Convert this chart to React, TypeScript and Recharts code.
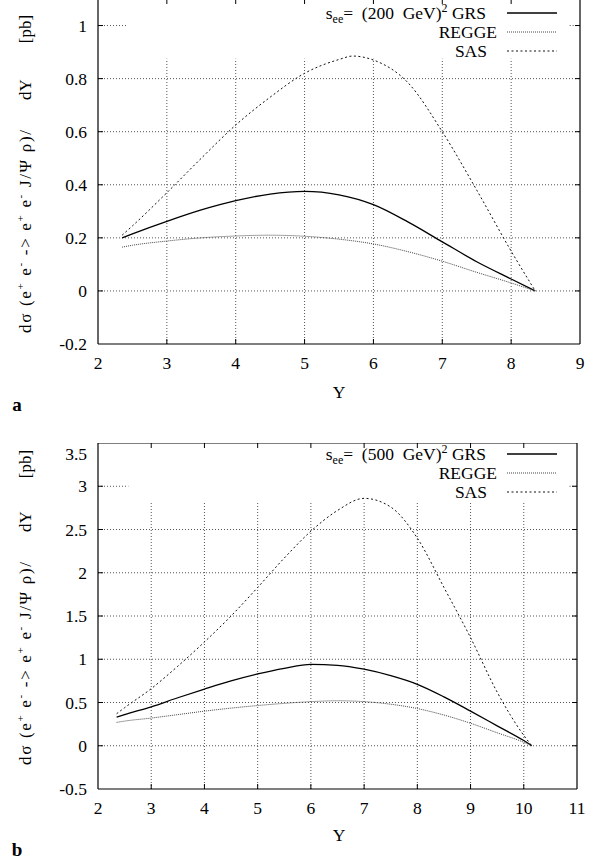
import React from 'react';
import { LineChart, Line, XAxis, YAxis, ReferenceLine } from 'recharts';

const FONT = "'Liberation Serif', 'DejaVu Serif', serif";

// ---------- Panel a : s_ee = (200 GeV)^2 ----------
const xA = [2.35, 2.5, 3, 3.5, 4, 4.5, 5, 5.5, 6, 6.5, 7, 7.5, 8, 8.35];
const grsA = [0.2, 0.215, 0.262, 0.305, 0.34, 0.365, 0.375, 0.362, 0.325, 0.26, 0.185, 0.11, 0.045, 0];
const reggeA = [0.165, 0.172, 0.188, 0.2, 0.207, 0.21, 0.206, 0.195, 0.177, 0.148, 0.112, 0.07, 0.03, 0];
const xSasA = [2.35, 2.5, 3, 3.5, 4, 4.5, 5, 5.5, 5.7, 6, 6.5, 7, 7.5, 8, 8.35];
const sasA = [0.21, 0.245, 0.37, 0.5, 0.625, 0.73, 0.82, 0.872, 0.885, 0.87, 0.785, 0.6, 0.38, 0.15, 0];
const xTicksA = [2, 3, 4, 5, 6, 7, 8, 9];
const yTicksA = [-0.2, 0, 0.2, 0.4, 0.6, 0.8, 1];
const xDomainA = [2, 9];
const yDomainA = [-0.2, 1.1];
const keyBoxA = { x1: 2.435, x2: 8.85, y1: 0.875 };

// ---------- Panel b : s_ee = (500 GeV)^2 ----------
const xB = [2.35, 2.5, 3, 3.5, 4, 4.5, 5, 5.5, 6, 6.5, 7, 7.5, 8, 8.5, 9, 9.5, 10, 10.15];
const grsB = [0.33, 0.36, 0.45, 0.555, 0.655, 0.75, 0.83, 0.895, 0.94, 0.93, 0.885, 0.81, 0.71, 0.565, 0.4, 0.23, 0.06, 0];
const reggeB = [0.27, 0.285, 0.32, 0.36, 0.4, 0.435, 0.465, 0.49, 0.51, 0.52, 0.51, 0.48, 0.43, 0.355, 0.26, 0.15, 0.04, 0];
const sasB = [0.37, 0.44, 0.66, 0.92, 1.2, 1.5, 1.83, 2.17, 2.48, 2.72, 2.86, 2.76, 2.4, 1.83, 1.25, 0.62, 0.12, 0];
const xTicksB = [2, 3, 4, 5, 6, 7, 8, 9, 10, 11];
const yTicksB = [-0.5, 0, 0.5, 1, 1.5, 2, 2.5, 3, 3.5];
const xDomainB = [2, 11];
const yDomainB = [-0.5, 3.5];
const keyBoxB = { x1: 2.57, x2: 10.86, y1: 2.81 };

const seriesNames = ['GRS', 'REGGE', 'SAS'];

const toPts = (xs: number[], ys: number[]) => xs.map((x, i) => ({ x, y: ys[i] }));

const lineStyles = [
  { stroke: '#000', strokeWidth: 1.3, strokeDasharray: undefined as string | undefined },
  { stroke: '#444', strokeWidth: 1, strokeDasharray: '1 1' },
  { stroke: '#111', strokeWidth: 1, strokeDasharray: '2 2.5' },
];

const GRID = { stroke: '#555', strokeWidth: 1, strokeDasharray: '1 2' };
const FRAME = { stroke: '#000', strokeWidth: 1.2 };
const TICKLEN = 5;
const CHART_H = 400;
const LEFT_MARGIN = 38;
const YAXIS_W = 60;
const XAXIS_H = 30;
const FS = 17.5;

function Key({ energy, top }: { energy: string; top: number }) {
  const rows = [13 + top, 32 + top, 51 + top];
  const ends = [486, 497, 487];
  return (
    <g>
      {seriesNames.map((name, i) => (
        <g key={name}>
          <text
            x={ends[i]}
            y={rows[i] + 6}
            textAnchor="end"
            fontFamily={FONT}
            fontSize={FS}
            fill="#000"
            style={{ whiteSpace: 'pre', fontFamily: FONT }}
          >
            {i === 0 ? (
              <>
                s
                <tspan dy={4} fontSize={12}>ee</tspan>
                <tspan dy={-4}>{`=  (${energy}  GeV)`}</tspan>
                <tspan dy={-7} fontSize={12}>2</tspan>
                <tspan dy={7}>{` ${name}`}</tspan>
              </>
            ) : (
              name
            )}
          </text>
          <line
            x1={507}
            x2={557}
            y1={rows[i]}
            y2={rows[i]}
            stroke={lineStyles[i].stroke}
            strokeWidth={lineStyles[i].strokeWidth}
            strokeDasharray={lineStyles[i].strokeDasharray}
          />
        </g>
      ))}
    </g>
  );
}

function YTitle({ cx, mainStart, mainEnd, dyStart, pbCenter }: { cx: number; mainStart: number; mainEnd: number; dyStart: number; pbCenter: number }) {
  const sup = (s: string) => (
    <>
      <tspan dy={-7} fontSize={11}>{s}</tspan>
      <tspan dy={7}> </tspan>
    </>
  );
  return (
    <g fontFamily={FONT} fontSize={17} fill="#000" style={{ fontFamily: FONT }}>
      <text
        transform={`translate(${cx}, ${mainStart}) rotate(-90)`}
        textAnchor="start"
        textLength={mainStart - mainEnd}
        lengthAdjust="spacing"
      >
        dσ (e{sup('+')}e{sup('-')}-&gt; e{sup('+')}e{sup('-')}J/Ψ ρ)/
      </text>
      <text transform={`translate(${cx}, ${dyStart}) rotate(-90)`} textAnchor="start">
        dY
      </text>
      <text transform={`translate(${cx}, ${pbCenter}) rotate(-90)`} textAnchor="middle">
        [pb]
      </text>
    </g>
  );
}

type PanelProps = {
  top: number;
  rightMargin: number;
  bottomMargin: number;
  xs: number[];
  grs: number[];
  regge: number[];
  xsSas: number[];
  sas: number[];
  xTicks: number[];
  yTicks: number[];
  xDomain: number[];
  yDomain: number[];
  keyBox: { x1: number; x2: number; y1: number };
  energy: string;
  letter: string;
  yTitle: { mainStart: number; mainEnd: number; dyStart: number; pbCenter: number };
  xTitleY: number;
  letterY: number;
  keyTop: number;
};

function Panel(p: PanelProps) {
  const [xmin, xmax] = p.xDomain;
  const [ymin, ymax] = p.yDomain;
  const datasets = [toPts(p.xs, p.grs), toPts(p.xs, p.regge), toPts(p.xsSas, p.sas)];
  const tickStyle = { fontFamily: FONT, fontSize: FS, fill: '#000' };
  const off = -p.top;

  // plot frame in container pixels (from the layout constants)
  const L = LEFT_MARGIN + YAXIS_W;
  const R = 607 - p.rightMargin;
  const T = 0;
  const B = CHART_H - p.bottomMargin - XAXIS_H;
  const fx = (v: number) => L + ((v - xmin) / (xmax - xmin)) * (R - L);
  const fy = (v: number) => T + ((ymax - v) / (ymax - ymin)) * (B - T);

  const refs: React.ReactNode[] = [];
  p.yTicks.forEach((t) => {
    if (t <= ymin || t >= ymax) return;
    if (t >= p.keyBox.y1) {
      refs.push(<ReferenceLine key={`hl${t}`} segment={[{ x: xmin, y: t }, { x: p.keyBox.x1, y: t }]} {...GRID} ifOverflow="visible" />);
      refs.push(<ReferenceLine key={`hr${t}`} segment={[{ x: p.keyBox.x2, y: t }, { x: xmax, y: t }]} {...GRID} ifOverflow="visible" />);
    } else {
      refs.push(<ReferenceLine key={`h${t}`} segment={[{ x: xmin, y: t }, { x: xmax, y: t }]} {...GRID} ifOverflow="visible" />);
    }
  });
  p.xTicks.forEach((t) => {
    if (t <= xmin || t >= xmax) return;
    const inKey = t >= p.keyBox.x1 && t <= p.keyBox.x2;
    refs.push(
      <ReferenceLine key={`v${t}`} segment={[{ x: t, y: ymin }, { x: t, y: inKey ? p.keyBox.y1 : ymax }]} {...GRID} ifOverflow="visible" />
    );
  });

  const innerX = p.xTicks.filter((t) => t > xmin && t < xmax);
  const innerY = p.yTicks.filter((t) => t > ymin && t < ymax);

  return (
    <div style={{ position: 'absolute', left: 0, top: p.top, width: 607, height: 430 }}>
      <LineChart
        width={607}
        height={CHART_H}
        margin={{ top: 0, right: p.rightMargin, bottom: p.bottomMargin, left: LEFT_MARGIN }}
      >
        <XAxis
          dataKey="x"
          type="number"
          domain={p.xDomain}
          ticks={p.xTicks}
          allowDataOverflow
          height={XAXIS_H}
          tickLine={false}
          tickSize={0}
          tickMargin={13}
          tick={tickStyle}
          axisLine={FRAME}
        />
        <YAxis
          type="number"
          domain={p.yDomain}
          ticks={p.yTicks}
          allowDataOverflow
          width={YAXIS_W}
          tickLine={false}
          tickSize={0}
          tickMargin={11}
          tick={tickStyle}
          axisLine={FRAME}
        />
        {refs}
        {datasets.map((d, i) => (
          <Line
            key={seriesNames[i]}
            data={d}
            dataKey="y"
            name={seriesNames[i]}
            type="monotone"
            dot={false}
            activeDot={false}
            isAnimationActive={false}
            stroke={lineStyles[i].stroke}
            strokeWidth={lineStyles[i].strokeWidth}
            strokeDasharray={lineStyles[i].strokeDasharray}
          />
        ))}
      </LineChart>
      <svg width={607} height={430} style={{ position: 'absolute', left: 0, top: 0, pointerEvents: 'none' }}>
        {/* frame top/right and inward ticks on all four sides */}
        <line x1={L} x2={R} y1={T} y2={T} {...FRAME} />
        <line x1={R} x2={R} y1={T} y2={B} {...FRAME} />
        {innerX.map((t) => (
          <g key={`tx${t}`} stroke="#000" strokeWidth={1}>
            <line x1={fx(t)} x2={fx(t)} y1={B} y2={B - TICKLEN} />
            <line x1={fx(t)} x2={fx(t)} y1={T} y2={T + TICKLEN} />
          </g>
        ))}
        {innerY.map((t) => (
          <g key={`ty${t}`} stroke="#000" strokeWidth={1}>
            <line x1={L} x2={L + TICKLEN} y1={fy(t)} y2={fy(t)} />
            <line x1={R} x2={R - TICKLEN} y1={fy(t)} y2={fy(t)} />
          </g>
        ))}
        <Key energy={p.energy} top={p.keyTop + off} />
        <YTitle
          cx={31}
          mainStart={p.yTitle.mainStart + off}
          mainEnd={p.yTitle.mainEnd + off}
          dyStart={p.yTitle.dyStart + off}
          pbCenter={p.yTitle.pbCenter + off}
        />
        <text x={339} y={p.xTitleY + off} textAnchor="middle" dominantBaseline="central" fontFamily={FONT} fontSize={FS} fill="#000" style={{ fontFamily: FONT }}>
          Y
        </text>
        <text x={17} y={p.letterY + off} textAnchor="middle" dominantBaseline="central" fontFamily={FONT} fontSize={19} fontWeight="bold" fill="#000" style={{ fontFamily: FONT }}>
          {p.letter}
        </text>
      </svg>
    </div>
  );
}

export default function App() {
  return (
    <div style={{ position: 'absolute', left: 0, top: 0, width: 607, height: 858, background: '#fff', overflow: 'hidden' }}>
      <Panel
        top={-1}
        rightMargin={27}
        bottomMargin={25}
        xs={xA}
        grs={grsA}
        regge={reggeA}
        xsSas={xSasA}
        sas={sasA}
        xTicks={xTicksA}
        yTicks={yTicksA}
        xDomain={xDomainA}
        yDomain={yDomainA}
        keyBox={keyBoxA}
        energy="200"
        letter="a"
        keyTop={0}
        yTitle={{ mainStart: 333, mainEnd: 130, dyStart: 100, pbCenter: 29 }}
        xTitleY={392}
        letterY={404}
      />
      <Panel
        top={443}
        rightMargin={30}
        bottomMargin={24}
        xs={xB}
        grs={grsB}
        regge={reggeB}
        xsSas={xB}
        sas={sasB}
        xTicks={xTicksB}
        yTicks={yTicksB}
        xDomain={xDomainB}
        yDomain={yDomainB}
        keyBox={keyBoxB}
        energy="500"
        letter="b"
        keyTop={441}
        yTitle={{ mainStart: 765, mainEnd: 562, dyStart: 532, pbCenter: 464 }}
        xTitleY={835}
        letterY={849}
      />
    </div>
  );
}
